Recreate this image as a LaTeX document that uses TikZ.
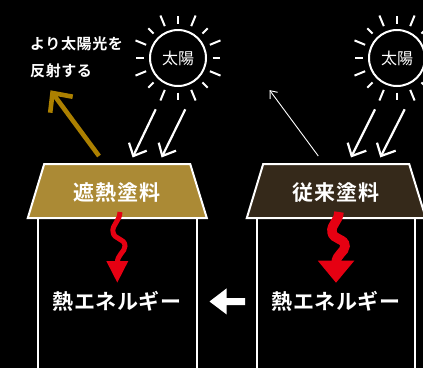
\documentclass[tikz,border=0pt]{standalone}
\usepackage{fontspec}
\setmainfont{Noto Sans CJK JP}[BoldFont={Noto Sans CJK JP Bold}]
\definecolor{goldfill}{HTML}{AB8A35}
\definecolor{darkfill}{HTML}{35291A}
\definecolor{goldline}{HTML}{AC8000}
\definecolor{heatred}{HTML}{E60012}
\tikzset{
  roof/.style={draw=white,line width=2pt,line join=miter},
  wall/.style={draw=white,line width=2pt},
  sunbody/.style={circle,draw=white,line width=2pt,minimum size=56pt,inner sep=0pt,text=white,font=\fontsize{16}{18}\selectfont},
  ray/.style={draw=white,line width=2pt},
  inray/.style={draw=white,line width=2.2pt,line join=miter},
  label/.style={text=white,inner sep=0pt,font=\bfseries},
  heat/.style={draw=heatred,line cap=butt},
}
\newcommand{\sunrays}[1]{%
  \foreach \a in {0,45,...,315}{\draw[ray] ($(#1)+(\a:34.5)$) -- ($(#1)+(\a:42)$);}%
  \foreach \a in {22.5,67.5,...,337.5}{\draw[ray] ($(#1)+(\a:34.5)$) -- ($(#1)+(\a:46)$);}%
}
\usetikzlibrary{calc}
\begin{document}
\begin{tikzpicture}[x=1pt,y=-1pt]
\useasboundingbox (0,0) rectangle (423,368);
\fill[black] (0,0) rectangle (423,368);
\clip (0,0) rectangle (423,368);
% suns
\node[sunbody] (sunL) at (178,58) {太陽};
\node[sunbody] (sunR) at (397,58) {太陽};
\sunrays{sunL}
\sunrays{sunR}
% walls
\draw[wall] (38.3,218) -- (38.3,368);
\draw[wall] (196.7,218) -- (196.7,368);
\draw[wall] (256.8,218) -- (256.8,368);
\draw[wall] (415.3,218) -- (415.3,368);
% roofs
\draw[roof,fill=goldfill] (44.2,164) -- (190.2,164) -- (206.8,218) -- (27.8,218) -- cycle;
\draw[roof,fill=darkfill] (263.2,164) -- (409.2,164) -- (425.8,218) -- (246.8,218) -- cycle;
% labels
\node[label,anchor=west] (t1) at (30,44) {\fontsize{15}{16}\selectfont\addfontfeature{LetterSpace=4}より太陽光を};
\node[label,anchor=west] (t2) at (30,71) {\fontsize{15}{16}\selectfont\addfontfeature{LetterSpace=4}反射する};
\node[label] (c1) at (117,192.5) {\fontsize{21}{23}\selectfont\addfontfeature{LetterSpace=4}遮熱塗料};
\node[label] (c2) at (336,192.5) {\fontsize{21}{23}\selectfont\addfontfeature{LetterSpace=4}従来塗料};
\node[label] (e1) at (117,301.5) {\fontsize{21}{23}\selectfont\addfontfeature{LetterSpace=3}熱エネルギー};
\node[label] (e2) at (336,301.5) {\fontsize{21}{23}\selectfont\addfontfeature{LetterSpace=3}熱エネルギー};
% incoming arrows
\coordinate (a1s) at (155.7,109.3); \coordinate (a1t) at (133.3,156);
\coordinate (a2s) at (185.3,109.3); \coordinate (a2t) at (162.3,156);
\coordinate (a3s) at (375,109.3);   \coordinate (a3t) at (351.7,156);
\coordinate (a4s) at (404.7,109.3); \coordinate (a4t) at (381,156);
\draw[inray] (a1s) -- (a1t); \draw[inray] (129,142.7) -- (a1t) -- (146.7,150.7);
\draw[inray] (a2s) -- (a2t); \draw[inray] (158.7,142.7) -- (a2t) -- (176,150.7);
\draw[inray] (a3s) -- (a3t); \draw[inray] (347.7,142.7) -- (a3t) -- (366.3,150.7);
\draw[inray] (a4s) -- (a4t); \draw[inray] (377,142.7) -- (a4t) -- (395.7,150.7);
% reflected arrows
\coordinate (r1s) at (99,156); \coordinate (r1t) at (52.5,93);
\draw[goldline,line width=4.6pt] (r1s) -- (r1t);
\draw[goldline,line width=4.6pt,line join=miter] (50.2,112.7) -- (r1t) -- (72.7,96.7);
\coordinate (r2s) at (318.3,156); \coordinate (r2t) at (270,90.7);
\draw[white,line width=.9pt] (r2s) -- (r2t);
\draw[white,line width=.9pt] (270.2,99) -- (r2t) -- (277.7,92.3);
% heat arrows
\coordinate (h1s) at (120,212); \coordinate (h1e) at (117.3,263);
\draw[heat,line width=5pt] (h1s) .. controls (119.5,222) and (112,224) .. (113,232) .. controls (114,240) and (125,238) .. (125,246) .. controls (125,252) and (117.5,254) .. (h1e);
\fill[heatred] (106.3,261) -- (128.3,261) -- (117.3,282.5) -- cycle;
\coordinate (h2s) at (339,212); \coordinate (h2e) at (336,263);
\draw[heat,line width=9.5pt] (h2s) .. controls (338.5,222) and (331,224) .. (332,232) .. controls (333,240) and (345,238) .. (345,246) .. controls (345,252) and (336.5,254) .. (h2e);
\fill[heatred] (317.8,260.7) -- (354.3,260.7) -- (336,282.7) -- cycle;
% transfer arrow
\fill[white] (209.5,301.5) -- (226.7,288.3) -- (226.7,298.2) -- (245.2,298.2) -- (245.2,305) -- (226.7,305) -- (226.7,314.5) -- cycle;
\end{tikzpicture}
\end{document}
